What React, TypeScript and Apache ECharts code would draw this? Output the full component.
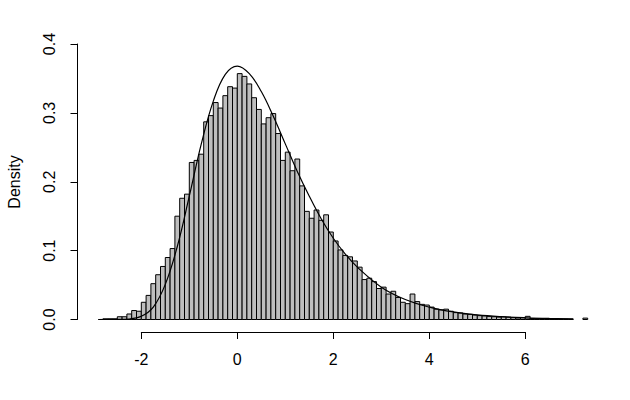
import React, { useEffect, useRef } from "react";
import * as echarts from "echarts";

// Histogram: first break and bin width, then densities per bin
const binStart = -2.8;
const binWidth = 0.1;
const densities = [
  0.001, 0.001, 0.001, 0.004, 0.004, 0.008, 0.013, 0.012, 0.025, 0.035,
  0.052, 0.065, 0.077, 0.09, 0.103, 0.15, 0.176, 0.182, 0.228, 0.231,
  0.24, 0.287, 0.296, 0.315, 0.307, 0.325, 0.338, 0.336,
  0.357, 0.353, 0.342, 0.322, 0.305, 0.284, 0.293, 0.299, 0.27, 0.231,
  0.243, 0.216, 0.233, 0.194, 0.157, 0.147, 0.159, 0.144, 0.152, 0.127,
  0.114, 0.101, 0.093, 0.091, 0.085, 0.076, 0.058, 0.06, 0.055, 0.045,
  0.047, 0.037, 0.041, 0.032, 0.025, 0.023, 0.037, 0.026, 0.022, 0.021,
  0.018, 0.015, 0.014, 0.015, 0.012, 0.01, 0.0095, 0.008, 0.0075, 0.0065,
  0.0056, 0.0052, 0.0045, 0.004, 0.0035, 0.0038, 0.0035, 0.0026, 0.0022, 0.0025,
  0.0046, 0.0015, 0.0012, 0.001, 0.001, 0.0008, 0.0008, 0.0006, 0.0006, 0.0004,
  0, 0, 0.002,
];

// Density curve points
const curveX = [
  -2.9, -2.5, -2.25, -2.0, -1.75, -1.5, -1.25, -1.0, -0.75, -0.5, -0.25, 0,
  0.25, 0.5, 0.75, 1.0, 1.25, 1.5, 1.75, 2.0, 2.25, 2.5, 3.0, 3.5, 4.0, 4.5,
  5.0, 5.5, 6.0, 6.5, 7.0,
];
const curveY = [
  0.0, 0.0001, 0.0007, 0.0046, 0.018, 0.051, 0.106, 0.179, 0.255, 0.317, 0.356, 0.368,
  0.357, 0.331, 0.295, 0.255, 0.215, 0.179, 0.146, 0.118, 0.095, 0.076, 0.047, 0.029, 0.018, 0.011,
  0.0067, 0.0041, 0.0025, 0.0015, 0.0009,
];

// Axis ranges / tick steps
const xTickMin = -2;
const xTickMax = 6;
const xTickStep = 2;
const yTickMin = 0;
const yTickMax = 0.4;
const yTickStep = 0.1;
const yLabel = "Density";

const FONT = "Liberation Sans, Arial, sans-serif";
const FS = 16;

export default function App() {
  const ref = useRef<HTMLDivElement>(null);
  useEffect(() => {
    const chart = echarts.init(ref.current as HTMLDivElement, null, { renderer: "svg" });
    const bins = densities
      .map((d, i) => {
        const x0 = +(binStart + i * binWidth).toFixed(2);
        const x1 = +(x0 + binWidth).toFixed(2);
        return [x0, x1, d];
      })
      .filter((b) => b[2] > 0);
    const curve = curveX.map((x, i) => [x, curveY[i]]);

    chart.setOption({
      animation: false,
      backgroundColor: "#ffffff",
      grid: [
        { left: 69.3, right: 32.7, top: 44, bottom: 80.5 },
        { left: 141.3, right: 104.7, top: 200, bottom: 68 },
        { left: 77.5, right: 500, top: 44, bottom: 80.5 },
      ],
      xAxis: [
        { gridIndex: 0, type: "value", min: -3.5, max: 7.5, show: false },
        {
          gridIndex: 1,
          type: "value",
          min: xTickMin,
          max: xTickMax,
          interval: xTickStep,
          axisLine: { show: true, lineStyle: { color: "#000", width: 1 } },
          axisTick: { show: true, inside: false, length: 7, lineStyle: { color: "#000", width: 1 } },
          axisLabel: { margin: 19, color: "#000", fontSize: FS, fontFamily: FONT },
          splitLine: { show: false },
        },
        { gridIndex: 2, type: "value", show: false },
      ],
      yAxis: [
        { gridIndex: 0, type: "value", min: yTickMin, max: yTickMax, show: false },
        { gridIndex: 1, type: "value", show: false },
        {
          gridIndex: 2,
          type: "value",
          min: yTickMin,
          max: yTickMax,
          interval: yTickStep,
          axisLine: { show: true, lineStyle: { color: "#000", width: 1 } },
          axisTick: { show: true, inside: false, length: 7, lineStyle: { color: "#000", width: 1 } },
          axisLabel: {
            margin: 20,
            rotate: 90,
            color: "#000",
            fontSize: FS,
            fontFamily: FONT,
            formatter: (v: number) => v.toFixed(1),
          },
          splitLine: { show: false },
        },
      ],
      graphic: [
        {
          type: "text",
          x: 14,
          y: 182,
          rotation: Math.PI / 2,
          style: {
            text: yLabel,
            fill: "#000",
            font: `${FS}px ${FONT}`,
            textAlign: "center",
            textVerticalAlign: "middle",
          },
        },
      ],
      series: [
        {
          type: "custom",
          xAxisIndex: 0,
          yAxisIndex: 0,
          data: bins,
          encode: { x: [0, 1], y: 2 },
          renderItem: (params: any, api: any) => {
            const p0 = api.coord([api.value(0), api.value(2)]);
            const p1 = api.coord([api.value(1), 0]);
            return {
              type: "rect",
              shape: { x: p0[0], y: p0[1], width: p1[0] - p0[0], height: p1[1] - p0[1] },
              style: { fill: "#BEBEBE", stroke: "#000", lineWidth: 1 },
            };
          },
          z: 2,
        },
        {
          type: "line",
          xAxisIndex: 0,
          yAxisIndex: 0,
          data: curve,
          showSymbol: false,
          smooth: 0.4,
          lineStyle: { color: "#000", width: 1.2 },
          z: 3,
        },
      ],
    });
    return () => chart.dispose();
  }, []);
  return (
    <div
      ref={ref}
      style={{ position: "absolute", left: 0, top: 0, width: 630, height: 400, background: "#fff" }}
    />
  );
}
